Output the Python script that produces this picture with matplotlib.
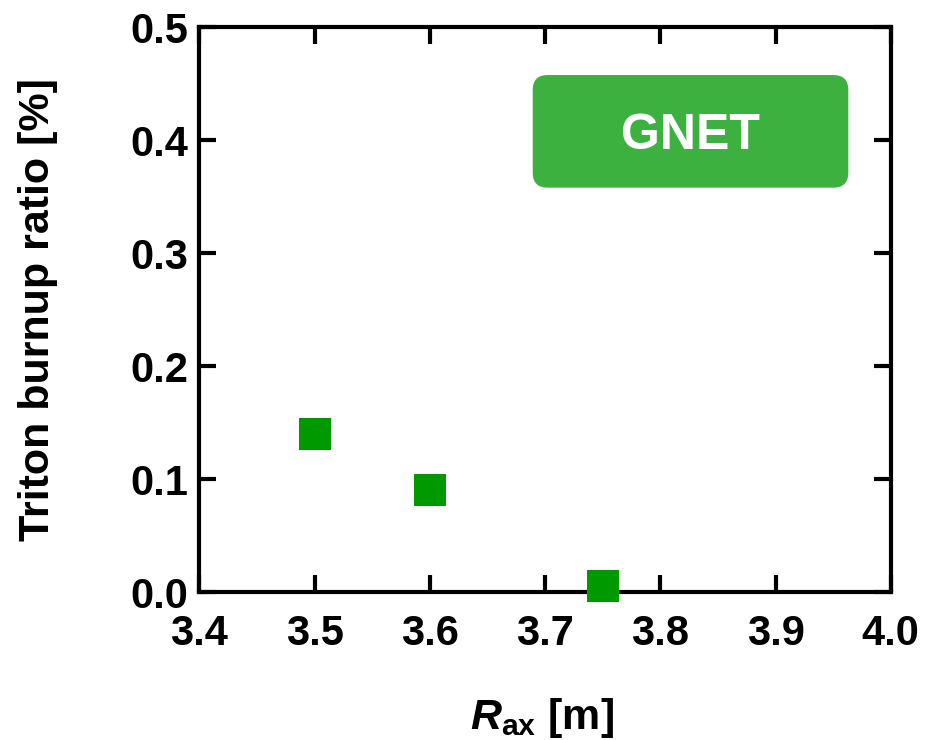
import matplotlib
matplotlib.use('Agg')
import matplotlib.pyplot as plt
from matplotlib.patches import FancyBboxPatch

plt.rcParams['font.family'] = ['Liberation Sans', 'DejaVu Sans']
plt.rcParams['font.weight'] = 'bold'
plt.rcParams['mathtext.fontset'] = 'custom'
plt.rcParams['mathtext.it'] = 'Liberation Sans:italic:bold'
plt.rcParams['mathtext.rm'] = 'Liberation Sans:bold'
plt.rcParams['mathtext.bf'] = 'Liberation Sans:bold'

# triton burnup vs magnetic axis position
r_ax = [3.5, 3.6, 3.75]
burnup = [0.14, 0.09, 0.005]

xticks = [3.4, 3.5, 3.6, 3.7, 3.8, 3.9, 4.0]
yticks = [0.0, 0.1, 0.2, 0.3, 0.4, 0.5]

fig = plt.figure(figsize=(9.32, 7.40), dpi=100)
ax = fig.add_axes([0.214, 0.2, 0.9557 - 0.214, 0.9635 - 0.2])

ax.plot(r_ax, burnup, 's', color='#009900', markersize=23, markeredgewidth=0,
        clip_on=False, zorder=5)

ax.set_xlim(3.4, 4.0)
ax.set_ylim(0.0, 0.5)
ax.set_xticks(xticks)
ax.set_yticks(yticks)
ax.set_xticklabels(['%.1f' % v for v in xticks])
ax.set_yticklabels(['%.1f' % v for v in yticks])

for side in ['top', 'bottom', 'left', 'right']:
    ax.spines[side].set_linewidth(3)
ax.tick_params(direction='in', length=12, width=3, top=True, right=True,
               labelsize=30)
ax.tick_params(axis='x', pad=16)
ax.tick_params(axis='y', pad=8)

ax.set_ylabel('Triton burnup ratio [%]', fontsize=31, fontweight='bold', va='center')
ax.yaxis.set_label_coords(-0.234, 0.5)
ax.set_xlabel(r'$R_{\mathrm{ax}}$ [m]', fontsize=31, fontweight='bold', va='center')
ax.xaxis.set_label_coords(0.496, -0.223)

# label box
box = FancyBboxPatch((0.5716, 0.7464), 0.9102 - 0.5716, 0.8986 - 0.7464,
                     boxstyle='round,pad=0,rounding_size=0.016',
                     mutation_aspect=932 / 740, transform=fig.transFigure,
                     facecolor='#3db13f', edgecolor='none', zorder=6)
fig.patches.append(box)
fig.text(0.7409, 0.8225, 'GNET', color='white', fontsize=36, fontweight='bold',
         ha='center', va='center_baseline', zorder=7)

fig.savefig('out.png', dpi=100)
